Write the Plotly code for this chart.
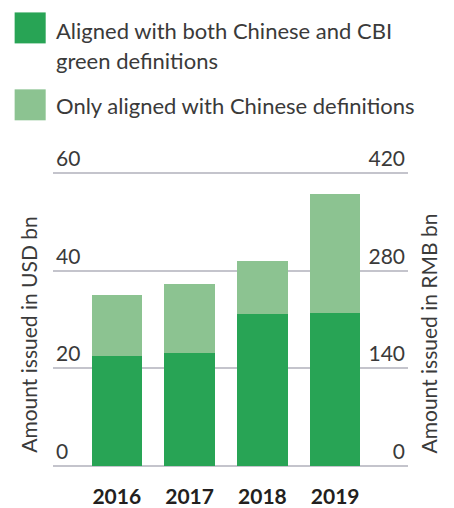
import plotly.graph_objects as go

years = ["2016", "2017", "2018", "2019"]
both_aligned = [22.5, 23.1, 31.1, 31.3]
only_chinese = [12.5, 14.2, 10.9, 24.4]
series_names = ["Aligned with both Chinese and CBI<br>green definitions",
                "Only aligned with Chinese definitions"]
colors = ["#28A455", "#8CC391"]
usd_ticks = [0, 20, 40, 60]
rmb_ticks = [0, 140, 280, 420]

FONT = "Lato"
TXT = "#3a3a3a"
WT = 400

OFF = 8  # page body margin
W, H = 454 - OFF, 508 - OFF
L = 53.3 - OFF
R = W - (407.7 - OFF)
B = H - (466 - OFF)
YMAX = 66.0
PPU = 293 / 60.0
plot_h = YMAX * PPU
T = H - B - plot_h
pw, ph = W - L - R, plot_h

def px(x):  # page pixel x -> paper
    return (x - OFF - L) / pw

def py(y):  # page pixel y -> paper
    return (H - B - (y - OFF)) / ph

fig = go.Figure()
fig.add_trace(go.Bar(x=years, y=both_aligned, name=series_names[0],
                     marker=dict(color=colors[0], line=dict(width=0)), width=0.69))
fig.add_trace(go.Bar(x=years, y=only_chinese, name=series_names[1],
                     marker=dict(color=colors[1], line=dict(width=0)), width=0.69))
fig.add_trace(go.Scatter(x=years, y=[0]*4, yaxis="y2", mode="markers",
                         marker=dict(opacity=0), showlegend=False, hoverinfo="skip"))

fig.update_layout(
    width=W, height=H, barmode="stack", showlegend=False,
    margin=dict(l=L, r=R, t=T, b=B, autoexpand=False),
    plot_bgcolor="white", paper_bgcolor="white",
    font=dict(family=FONT, color=TXT, size=21),
    xaxis=dict(type="category", range=[-0.876, 4.0], showgrid=False, automargin=False,
               ticks="outside", ticklen=12, tickcolor="rgba(0,0,0,0)",
               tickfont=dict(family=FONT, size=21, color="#231f20", weight="bold"),
               showline=False, zeroline=False),
    yaxis=dict(range=[0, YMAX], tickvals=usd_ticks, showgrid=True, automargin=False,
               gridcolor="#c4c4cc", gridwidth=1.5, zeroline=True,
               zerolinecolor="#c4c4cc", zerolinewidth=1.5,
               ticklabelposition="inside top", showline=False,
               tickfont=dict(family=FONT, size=21, color=TXT, weight=WT)),
    yaxis2=dict(range=[0, YMAX * 7], tickvals=rmb_ticks, overlaying="y", side="right",
                showgrid=False, zeroline=False, ticklabelposition="inside top",
                showline=False, automargin=False,
                tickfont=dict(family=FONT, size=21, color=TXT, weight=WT)),
)

fig.add_annotation(text="Amount issued in USD bn", xref="paper", yref="paper",
                   x=px(28), y=py(334), textangle=-90, showarrow=False,
                   xanchor="center", yanchor="middle",
                   font=dict(family=FONT, size=21, color=TXT, weight=WT))
fig.add_annotation(text="Amount issued in RMB bn", xref="paper", yref="paper",
                   x=px(428), y=py(333), textangle=-90, showarrow=False,
                   xanchor="center", yanchor="middle",
                   font=dict(family=FONT, size=21, color=TXT, weight=WT))

# custom legend
fig.add_shape(type="rect", xref="paper", yref="paper",
              x0=px(15), x1=px(46), y0=py(43), y1=py(12),
              fillcolor=colors[0], line=dict(width=0))
fig.add_shape(type="rect", xref="paper", yref="paper",
              x0=px(15), x1=px(46), y0=py(120), y1=py(89),
              fillcolor=colors[1], line=dict(width=0))
line_centers = [[30, 60], [105]]
for name, centers in zip(series_names, line_centers):
    for part, cy in zip(name.split("<br>"), centers):
        fig.add_annotation(text=part, xref="paper", yref="paper",
                           x=px(54), y=py(cy), xanchor="left", yanchor="middle",
                           align="left", showarrow=False,
                           font=dict(family=FONT, size=22, color=TXT, weight=WT))

fig.write_html("out.html")
